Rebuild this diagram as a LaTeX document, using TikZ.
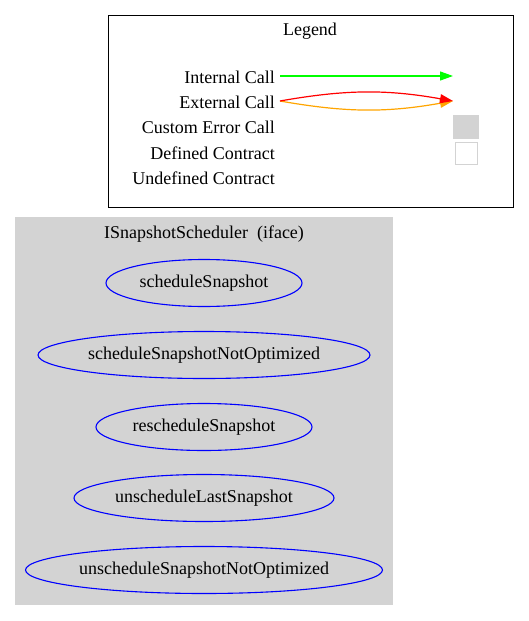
\documentclass[tikz,border=0pt]{standalone}
\usepackage{fontspec}
\setmainfont{Liberation Serif}
\usetikzlibrary{shapes.geometric,arrows.meta}
\definecolor{clustergray}{HTML}{D3D3D3}
\definecolor{callorange}{HTML}{FFA500}
\definecolor{callgreen}{HTML}{00FF00}
\newcommand{\legendlabel}[3]{\node[legtext] (#1) at (275,#2) {#3};}

\begin{document}
\begin{tikzpicture}[x=1pt,y=-1pt,
  font=\fontsize{18}{21}\selectfont,
  func/.style={ellipse,draw=blue,line width=1.1pt,minimum height=47pt,inner sep=0pt},
  legtext/.style={anchor=east,inner sep=0pt},
  call/.style={line width=1.2pt,-{Triangle[length=13pt,width=9pt]}}]
  \useasboundingbox (0,0) rectangle (529,621);
  % legend
  \draw[line width=1pt] (108,15) rectangle (513,207);
  \node (legtitle) at (310,31) {Legend};
  \legendlabel{lint}{77}{Internal Call}
  \legendlabel{lext}{102}{External Call}
  \legendlabel{lerr}{127}{Custom Error Call}
  \legendlabel{ldef}{153}{Defined Contract}
  \legendlabel{lund}{178}{Undefined Contract}
  \coordinate (intA) at (280,76);
  \coordinate (intB) at (453,76);
  \coordinate (extA) at (280,101);
  \coordinate (extB) at (453,101);
  \draw[call,callgreen] (intA) -- (intB);
  \draw[call,callorange] (extA) to[bend right=10] (extB);
  \draw[call,red] (extA) to[bend left=10] (extB);
  \node[fill=clustergray,minimum width=26pt,minimum height=24pt,inner sep=0pt] (errbox) at (466,127) {};
  \node[draw=clustergray,line width=1pt,minimum size=22pt,inner sep=0pt] (defbox) at (466,153) {};
  % cluster
  \fill[clustergray] (15,217) rectangle (393,605);
  \node (ctitle) at (204,234) {ISnapshotScheduler\ \ (iface)};
  \node[func,minimum width=196pt] (f1) at (204,283) {scheduleSnapshot};
  \node[func,minimum width=332pt] (f2) at (204,355) {scheduleSnapshotNotOptimized};
  \node[func,minimum width=216pt] (f3) at (204,427) {rescheduleSnapshot};
  \node[func,minimum width=260pt] (f4) at (204,498) {unscheduleLastSnapshot};
  \node[func,minimum width=357pt] (f5) at (204,570) {unscheduleSnapshotNotOptimized};
\end{tikzpicture}
\end{document}
